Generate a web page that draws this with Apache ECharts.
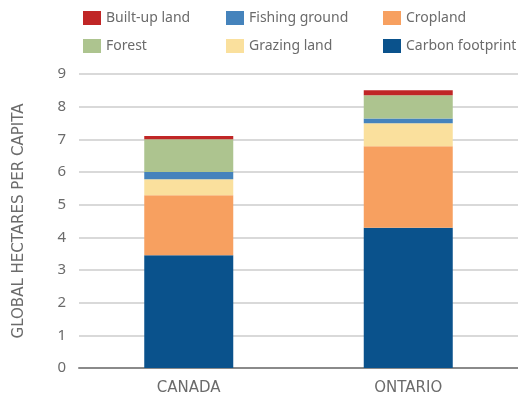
<!DOCTYPE html>
<html>
<head>
<meta charset="utf-8">
<script src="https://cdn.jsdelivr.net/npm/echarts@6/dist/echarts.min.js"></script>
<style>
  html, body { margin: 0; padding: 0; background: #fff; }
  #chart { width: 518px; height: 396px; }
</style>
</head>
<body>
<div id="chart"></div>
<script>
// Ecological footprint by land type, global hectares per capita
const regions = ['CANADA', 'ONTARIO'];
const carbonFootprint = [3.45, 4.29];
const cropland = [1.84, 2.50];
const grazingLand = [0.49, 0.70];
const fishingGround = [0.22, 0.15];
const forest = [1.00, 0.71];
const builtUpLand = [0.10, 0.15];
const yTicks = [0, 1, 2, 3, 4, 5, 6, 7, 8, 9];

const stackOrder = [
  { name: 'Carbon footprint', data: carbonFootprint, color: '#0a528c' },
  { name: 'Cropland', data: cropland, color: '#f7a060' },
  { name: 'Grazing land', data: grazingLand, color: '#fae09d' },
  { name: 'Fishing ground', data: fishingGround, color: '#4583bc' },
  { name: 'Forest', data: forest, color: '#adc48f' },
  { name: 'Built-up land', data: builtUpLand, color: '#c02626' }
];

const textColor = '#6b6b6b';
const font = 'Noto Sans';
const wideFont = 'DejaVu Sans';

const legendBase = {
  orient: 'vertical',
  top: 11,
  padding: 0,
  itemWidth: 18,
  itemHeight: 14,
  itemGap: 14,
  icon: 'rect',
  textStyle: { color: textColor, fontSize: 14, fontFamily: font },
  selectedMode: false
};

const chart = echarts.init(document.getElementById('chart'), null, { renderer: 'canvas' });
chart.setOption({
  animation: false,
  legend: [
    Object.assign({}, legendBase, { left: 83, data: ['Built-up land', 'Forest'] }),
    Object.assign({}, legendBase, { left: 226, data: ['Fishing ground', 'Grazing land'] }),
    Object.assign({}, legendBase, { left: 383, data: ['Cropland', 'Carbon footprint'] })
  ],
  grid: { left: 79, right: 0, top: 74, bottom: 28, containLabel: false },
  xAxis: {
    type: 'category',
    data: regions,
    axisLine: { lineStyle: { color: '#8a8a8a', width: 2 } },
    axisTick: { show: false },
    axisLabel: { color: textColor, fontSize: 15, fontFamily: wideFont, margin: 13 }
  },
  yAxis: {
    type: 'value',
    min: yTicks[0],
    max: yTicks[yTicks.length - 1],
    interval: 1,
    name: 'GLOBAL HECTARES PER CAPITA',
    nameLocation: 'middle',
    nameGap: 52,
    nameTextStyle: { color: textColor, fontSize: 15, fontFamily: wideFont },
    axisLine: { show: false },
    axisTick: { show: false },
    axisLabel: { color: textColor, fontSize: 15, fontFamily: font, margin: 13 },
    splitLine: { lineStyle: { color: '#d9d9d9', width: 2 } }
  },
  series: stackOrder.map(s => ({
    name: s.name,
    type: 'bar',
    stack: 'footprint',
    data: s.data,
    barWidth: 89,
    itemStyle: { color: s.color },
    emphasis: { disabled: true }
  }))
});
</script>
</body>
</html>
